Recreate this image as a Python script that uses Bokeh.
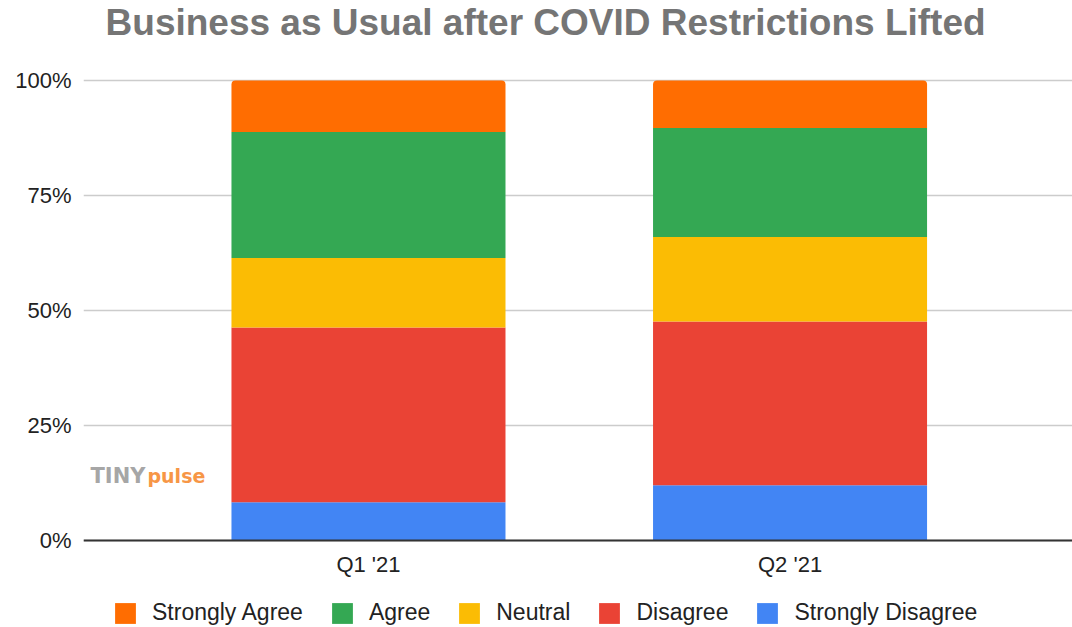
from bokeh.plotting import figure
from bokeh.models import (ColumnDataSource, Range1d, FixedTicker, PrintfTickFormatter,
                          Legend, LegendItem, Label, Span)
from bokeh.core.properties import value
from bokeh.embed import file_html
from bokeh.resources import INLINE

# ---- data ----
quarters = ["Q1 '21", "Q2 '21"]
strongly_disagree = [8.3, 12.0]
disagree = [38.0, 35.6]
neutral = [15.1, 18.4]
agree = [27.4, 23.7]
strongly_agree = [11.2, 10.3]
y_ticks = [0, 25, 50, 75, 100]

series = ["Strongly Disagree", "Disagree", "Neutral", "Agree", "Strongly Agree"]
colors = ["#4285f4", "#ea4335", "#fbbc04", "#34a853", "#ff6d01"]

source = ColumnDataSource(dict(
    x=list(range(len(quarters))),
    label=quarters,
    **{"Strongly Disagree": strongly_disagree,
       "Disagree": disagree,
       "Neutral": neutral,
       "Agree": agree,
       "Strongly Agree": strongly_agree}))

FONT = "Liberation Sans"

# frame spans full canvas height; the y-range extends beyond 0..100 to hold title / labels / legend
p = figure(frame_width=989, frame_height=627,
           x_range=Range1d(-0.676, 1.670), y_range=Range1d(-18.913, 117.39),
           output_backend="svg", toolbar_location=None,
           x_axis_location=None, title_location=None,
           min_border_left=83, min_border_right=0,
           min_border_top=0, min_border_bottom=0)
p.outline_line_color = None
p.background_fill_color = "white"

renderers = p.vbar_stack(series, x="x", width=0.65, source=source,
                         color=colors, line_color=None)
renderers[-1].glyph.border_radius = (4, 4, 0, 0)

# category labels (x axis)
p.text(x="x", y=-5.2, text="label", source=source,
       text_font=value(FONT), text_font_size=value("22px"), text_color="#222222",
       text_align="center", text_baseline="alphabetic")

# baseline axis line
p.add_layout(Span(location=0, dimension="width", line_color="#333333", line_width=2))

# title
p.add_layout(Label(x=0.4201, y=112.7, text="Business as Usual after COVID Restrictions Lifted",
                   text_font=FONT, text_font_size="37px", text_font_style="bold",
                   text_color="#757575", text_align="center", text_baseline="alphabetic"))

# y axis
p.yaxis.ticker = FixedTicker(ticks=y_ticks)
p.yaxis.formatter = PrintfTickFormatter(format="%d%%")
p.yaxis.axis_line_color = None
p.yaxis.major_tick_line_color = None
p.yaxis.minor_tick_line_color = None
p.yaxis.major_label_text_font = FONT
p.yaxis.major_label_text_font_size = "22px"
p.yaxis.major_label_text_color = "#222222"
p.yaxis.major_label_standoff = 6

p.xgrid.grid_line_color = None
p.ygrid.ticker = FixedTicker(ticks=y_ticks)
p.ygrid.grid_line_color = "#cccccc"
p.ygrid.grid_line_width = 1.5

# legend (inside the frame, at the bottom)
order = ["Strongly Agree", "Agree", "Neutral", "Disagree", "Strongly Disagree"]
items = [LegendItem(label=name, renderers=[renderers[series.index(name)]]) for name in order]
legend = Legend(items=items, orientation="horizontal", location=(29, 1),
                glyph_width=26, glyph_height=26, label_standoff=14, spacing=26,
                padding=0, margin=0, border_line_color=None, background_fill_alpha=0,
                label_text_font=FONT, label_text_font_size="23px",
                label_text_color="#222222", label_height=26)
p.add_layout(legend, "center")

# watermark logo
p.add_layout(Label(x=-0.6594, y=14.1, text="TINY", text_color="#a6a6a6",
                   text_font="DejaVu Sans", text_font_style="bold", text_font_size="21px",
                   text_baseline="alphabetic"))
p.add_layout(Label(x=-0.5242, y=14.1, text="pulse", text_color="#f79646",
                   text_font="DejaVu Sans", text_font_style="bold", text_font_size="19px",
                   text_baseline="alphabetic"))

open("out.html", "w").write(file_html(p, INLINE))
